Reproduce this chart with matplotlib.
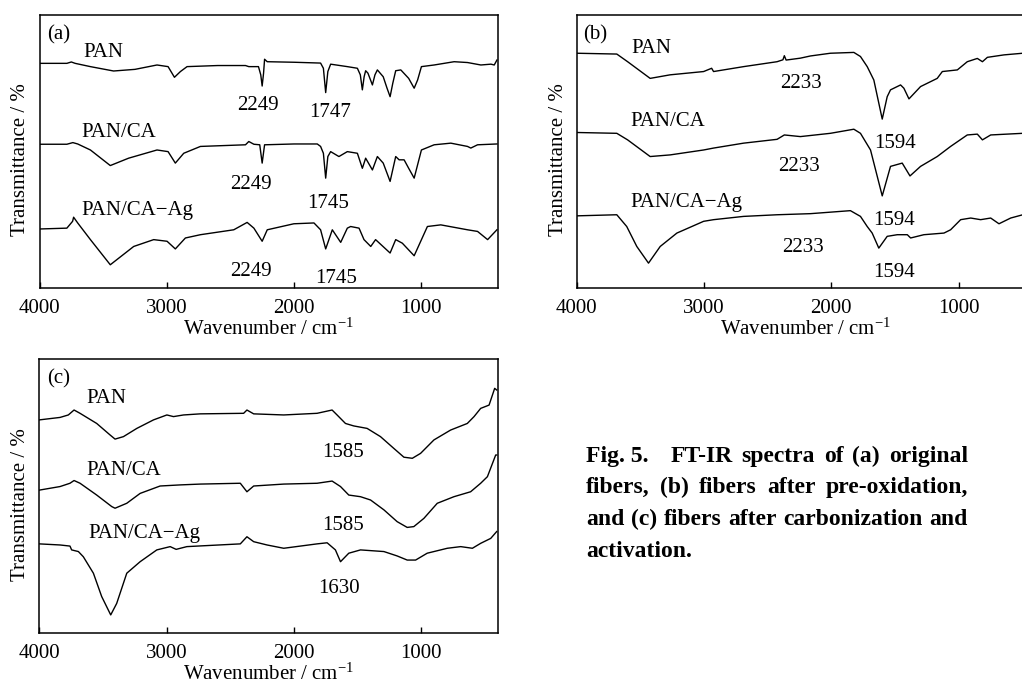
import matplotlib
matplotlib.use('Agg')
import matplotlib.pyplot as plt

plt.rcParams['font.family'] = ['Liberation Serif', 'DejaVu Serif']
plt.rcParams['mathtext.fontset'] = 'custom'
plt.rcParams['mathtext.rm'] = 'Liberation Serif'
plt.rcParams['mathtext.default'] = 'regular'

# ---- (a) original fibers ----
a_pan_x = [3995, 3785, 3750, 3720, 3600, 3418, 3250, 3077, 2990, 2940, 2893, 2841, 2600, 2382, 2356, 2280, 2262,
           2251, 2240, 2232, 2211, 2000, 1792, 1770, 1752, 1735, 1713, 1582, 1503, 1480, 1464, 1450, 1438, 1420,
           1385, 1365, 1346, 1300, 1270, 1246, 1225, 1202, 1162, 1100, 1057, 1030, 1000, 900, 743, 638, 533, 454,
           428, 407]
a_pan_y = [82.2, 82.2, 82.7, 82.2, 81.0, 79.4, 80.0, 81.6, 81.0, 77.1, 79.2, 81.0, 81.4, 81.4, 81.0, 81.0, 78.0,
           73.9, 78.6, 83.7, 82.8, 82.6, 82.3, 80.4, 71.5, 79.2, 81.9, 81.0, 80.4, 78.0, 72.5, 77.3, 79.5, 78.6,
           74.3, 78.0, 79.8, 77.3, 73.1, 70.0, 74.9, 79.5, 79.8, 76.7, 73.1, 76.1, 81.0, 81.6, 82.8, 82.5, 81.6, 81.9,
           81.6, 83.4]
a_ca_x = [3995, 3785, 3738, 3700, 3600, 3444, 3300, 3077, 2990, 2933, 2867, 2736, 2382, 2356, 2316, 2270, 2251,
          2232, 2000, 1818, 1792, 1770, 1752, 1735, 1713, 1648, 1582, 1503, 1464, 1438, 1385, 1346, 1300, 1246,
          1202, 1175, 1136, 1100, 1057, 1000, 900, 769, 638, 612, 559, 407]
a_ca_y = [52.6, 52.6, 53.2, 52.7, 50.5, 44.8, 47.5, 50.5, 49.9, 45.7, 49.3, 51.8, 52.4, 53.6, 52.6, 52.4, 45.7,
          52.4, 52.7, 52.7, 51.8, 49.3, 40.2, 48.1, 49.9, 48.1, 49.9, 49.3, 43.8, 47.5, 43.2, 48.1, 45.7, 39.0,
          48.1, 46.9, 46.9, 43.8, 40.2, 50.5, 52.4, 53.0, 51.8, 51.2, 52.4, 52.7]
a_ag_x = [3995, 3785, 3740, 3732, 3700, 3600, 3444, 3260, 3103, 2998, 2933, 2854, 2736, 2474, 2369, 2316, 2251,
          2211, 2002, 1844, 1792, 1752, 1700, 1634, 1582, 1556, 1490, 1451, 1398, 1360, 1246, 1202, 1150, 1057,
          953, 848, 638, 559, 480, 407]
a_ag_y = [21.6, 21.9, 24.4, 25.9, 23.8, 17.7, 8.5, 15.2, 17.7, 17.1, 14.3, 18.3, 19.5, 21.3, 24.0, 21.9, 17.1,
          21.3, 23.5, 23.8, 21.3, 14.3, 21.3, 16.7, 21.9, 22.5, 21.9, 17.7, 15.2, 17.7, 12.8, 17.7, 16.4, 11.8,
          22.5, 23.1, 21.3, 20.7, 17.7, 21.3]

# ---- (b) after pre-oxidation ----
b_pan_x = [4000, 3685, 3600, 3423, 3266, 3003, 2940, 2925, 2689, 2426, 2380, 2369, 2355, 2243, 2164, 2007, 1823,
           1771, 1718, 1666, 1600, 1561, 1535, 1456, 1430, 1390, 1299, 1168, 1128, 1010, 932, 853, 813, 774, 643,
           496, 400]
b_pan_y = [85.9, 85.6, 82.8, 76.7, 78.0, 79.2, 80.4, 79.2, 81.0, 82.8, 83.5, 85.0, 83.4, 84.1, 84.9, 85.9, 86.2,
           84.7, 81.0, 76.1, 61.8, 70.0, 72.5, 74.3, 73.1, 69.2, 73.7, 76.7, 79.2, 79.8, 82.8, 84.0, 82.8, 84.4,
           85.3, 85.9, 86.1]
b_ca_x = [4000, 3685, 3600, 3423, 3266, 3003, 2925, 2689, 2426, 2369, 2243, 2007, 1823, 1771, 1692, 1600, 1535,
          1443, 1382, 1299, 1168, 1063, 932, 853, 813, 748, 496, 400]
b_ca_y = [56.9, 56.6, 54.2, 48.1, 48.7, 50.5, 51.2, 53.0, 54.4, 56.0, 55.4, 56.6, 58.1, 56.6, 50.5, 33.7, 44.5,
          45.7, 41.0, 44.5, 48.1, 51.8, 56.0, 56.3, 54.2, 56.0, 56.6, 56.9]
b_ag_x = [4000, 3685, 3607, 3528, 3436, 3344, 3213, 3003, 2925, 2689, 2426, 2164, 1850, 1771, 1718, 1679, 1627,
          1561, 1482, 1403, 1377, 1273, 1115, 1063, 984, 905, 827, 748, 683, 591, 496, 400]
b_ag_y = [26.4, 26.8, 22.5, 15.2, 9.1, 15.2, 20.1, 24.4, 25.0, 26.2, 26.8, 27.2, 28.3, 26.2, 22.5, 20.1, 14.6,
          18.9, 19.5, 19.5, 18.3, 19.5, 20.1, 21.3, 25.0, 25.6, 25.0, 25.6, 23.5, 25.6, 26.8, 27.4]

# ---- (c) after carbonization and activation ----
c_pan_x = [4000, 3837, 3772, 3727, 3680, 3549, 3444, 3405, 3339, 3234, 3103, 2998, 2946, 2867, 2736, 2395, 2369,
           2316, 2080, 1818, 1700, 1661, 1595, 1530, 1425, 1320, 1215, 1136, 1070, 1005, 900, 769, 638, 585, 533,
           467, 423, 407]
c_pan_y = [77.8, 78.7, 79.6, 81.4, 80.2, 76.5, 72.3, 70.8, 71.7, 74.7, 77.8, 79.6, 79.0, 79.6, 80.0, 80.2, 81.4,
           80.0, 79.6, 80.2, 81.4, 79.6, 76.5, 75.6, 74.7, 71.7, 67.4, 64.2, 63.8, 65.6, 70.5, 74.1, 76.5, 79.0, 82.0,
           83.2, 89.3, 88.7]
c_ca_x = [4000, 3837, 3759, 3727, 3680, 3549, 3431, 3405, 3313, 3208, 3051, 2893, 2736, 2421, 2369, 2316, 2080,
          1818, 1700, 1634, 1569, 1477, 1398, 1293, 1189, 1110, 1058, 979, 874, 743, 612, 533, 480, 415, 407]
c_ca_y = [52.2, 53.5, 54.7, 55.7, 54.7, 50.4, 46.2, 45.6, 47.4, 51.0, 53.7, 54.1, 54.4, 54.7, 51.6, 53.7, 54.4,
          54.7, 55.5, 53.5, 50.4, 49.8, 48.6, 45.0, 40.7, 38.6, 38.9, 41.9, 47.4, 49.8, 51.6, 54.7, 57.1, 65.0, 65.0]
c_ag_x = [4000, 3837, 3759, 3746, 3693, 3654, 3575, 3510, 3439, 3392, 3313, 3208, 3077, 2972, 2925, 2841, 2421,
          2369, 2316, 2211, 2080, 1818, 1739, 1674, 1634, 1569, 1477, 1293, 1189, 1110, 1044, 953, 795, 690, 598,
          533, 454, 407]
c_ag_y = [32.6, 32.2, 31.8, 30.4, 29.8, 27.9, 21.9, 13.4, 6.7, 10.9, 21.9, 26.1, 30.4, 31.6, 30.6, 31.6, 32.6,
          35.2, 33.4, 32.2, 31.0, 32.6, 33.0, 30.4, 26.1, 29.2, 30.4, 29.8, 28.2, 26.7, 26.7, 29.2, 31.0, 31.6, 31.0,
          32.8, 34.6, 37.1]

xticks = [4000, 3000, 2000, 1000]

# label texts: (text, wavenumber, value, ha)
a_labels = [('(a)', 3942, 91.0, 'left'), ('PAN', 3654, 84.7, 'left'), ('2249', 2285, 65.0, 'center'),
            ('1747', 1721, 62.5, 'center'), ('PAN/CA', 3672, 55.4, 'left'), ('2249', 2343, 36.4, 'center'),
            ('1745', 1734, 29.1, 'center'), ('PAN/CA\u2212Ag', 3672, 26.8, 'left'), ('2249', 2343, 4.4, 'center'),
            ('1745', 1668, 1.9, 'center')]
b_labels = [('(b)', 3953, 91.0, 'left'), ('PAN', 3567, 85.9, 'left'), ('2233', 2238, 73.2, 'center'),
            ('PAN/CA', 3575, 59.3, 'left'), ('1594', 1503, 51.4, 'center'), ('2233', 2251, 42.9, 'center'),
            ('PAN/CA\u2212Ag', 3575, 29.8, 'left'), ('1594', 1508, 23.0, 'center'), ('2233', 2224, 13.3, 'center'),
            ('1594', 1508, 3.9, 'center')]
c_labels = [('(c)', 3942, 91.1, 'left'), ('PAN', 3628, 83.8, 'left'), ('1585', 1611, 64.4, 'center'),
            ('PAN/CA', 3628, 57.7, 'left'), ('1585', 1611, 37.7, 'center'), ('PAN/CA\u2212Ag', 3614, 34.9, 'left'),
            ('1630', 1648, 14.6, 'center')]

caption = [['Fig. 5.', 'FT-IR', 'spectra', 'of', '(a)', 'original'],
           ['fibers,', '(b)', 'fibers', 'after', 'pre-oxidation,'],
           ['and', '(c)', 'fibers', 'after', 'carbonization', 'and'],
           ['activation.']]

W, H = 1022, 684
fig = plt.figure(figsize=(W / 100, H / 100), dpi=100)

panels = [
    ([39.5, 288, 458.3, 273.3], [(a_pan_x, a_pan_y), (a_ca_x, a_ca_y), (a_ag_x, a_ag_y)], a_labels),
    ([576.7, 288, 458.3, 273.3], [(b_pan_x, b_pan_y), (b_ca_x, b_ca_y), (b_ag_x, b_ag_y)], b_labels),
    ([39.3, 633.3, 458.3, 274.3], [(c_pan_x, c_pan_y), (c_ca_x, c_ca_y), (c_ag_x, c_ag_y)], c_labels),
]

for (l, b, w, h), series, labels in panels:
    ax = fig.add_axes([l / W, 1 - b / H, w / W, h / H])
    for xs, ys in series:
        ax.plot(xs, ys, color='black', lw=1.0)
    ax.set_xlim(4000, 400)
    ax.set_ylim(0, 100)
    ax.set_xticks(xticks)
    ax.set_xticklabels([str(t) for t in xticks])
    ax.set_yticks([])
    ax.tick_params(axis='x', direction='in', length=4, width=1, labelsize=15, pad=8)
    for s in ax.spines.values():
        s.set_linewidth(1.1)
    ax.set_xlabel('Wavenumber / cm$^{-1}$', fontsize=15)
    ax.xaxis.set_label_coords(0.5, -30.5 / h)
    ax.set_ylabel('Transmittance / %', fontsize=15)
    ax.yaxis.set_label_coords(-9 / w, 0.47)
    for txt, x, y, ha in labels:
        ax.text(x, y, txt, fontsize=15, ha=ha, va='baseline')

# justified caption
renderer = fig.canvas.get_renderer()
x0, x1 = 586, 968
baselines = [461.7, 493.3, 525.0, 556.7]
for i, words in enumerate(caption):
    texts = [fig.text(0, 1 - baselines[i] / H, wd, fontsize=17, fontweight='bold', va='baseline')
             for wd in words]
    widths = [t.get_window_extent(renderer).width for t in texts]
    weights = [2.5 if (i == 0 and k == 0) else 1.0 for k in range(len(words) - 1)]
    if i < len(caption) - 1 and len(words) > 1:
        unit = (x1 - x0 - sum(widths)) / sum(weights)
    else:
        unit = 5
    x = x0
    for k, (t, wd) in enumerate(zip(texts, widths)):
        t.set_x(x / W)
        if k < len(weights):
            x += wd + unit * weights[k]

fig.savefig('out.png', dpi=100)
